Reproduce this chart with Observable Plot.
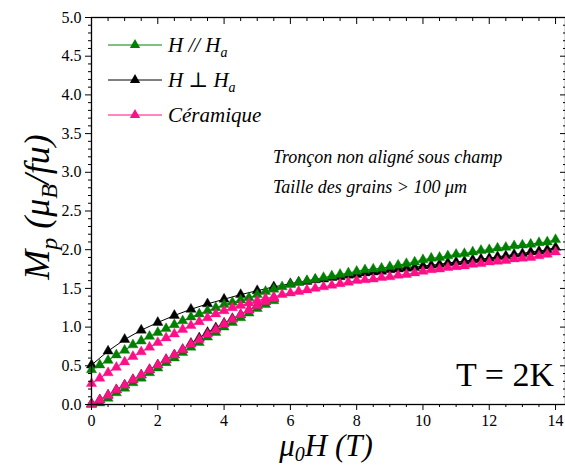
<!DOCTYPE html>
<html>
<head>
<meta charset="utf-8">
<script src="https://cdn.jsdelivr.net/npm/d3@7"></script>
<script src="https://cdn.jsdelivr.net/npm/@observablehq/plot@0.6"></script>
<style>
  html, body { margin: 0; padding: 0; background: white; }
  #chart svg { display: block; }
</style>
</head>
<body>
<div id="chart"></div>
<script>
// ---- data ----
const fieldQ = [0,0.25,0.5,0.75,1,1.25,1.5,1.75,2,2.25,2.5,2.75,3,3.25,3.5,3.75,4,4.25,4.5,4.75,5,5.25,5.5,5.75,6,6.25,6.5,6.75,7,7.25,7.5,7.75,8,8.25,8.5,8.75,9,9.25,9.5,9.75,10,10.25,10.5,10.75,11,11.25,11.5,11.75,12,12.25,12.5,12.75,13,13.25,13.5,13.75,14];
const fieldLow = [0,0.25,0.5,0.75,1,1.25,1.5,1.75,2,2.25,2.5,2.75,3,3.25,3.5,3.75,4,4.25,4.5,4.75,5,5.25,5.5];
const fieldBlackUp = [0,0.5,1,1.5,2,2.5,3,3.5,4,4.5,5,5.5,6,6.25,6.5,6.75,7,7.25,7.5,7.75,8,8.25,8.5,8.75,9,9.25,9.5,9.75,10,10.25,10.5,10.75,11,11.25,11.5,11.75,12,12.25,12.5,12.75,13,13.25,13.5,13.75,14];

// H parallel Ha (green)
const greenUp = [0.45,0.51,0.57,0.64,0.70,0.77,0.82,0.88,0.93,0.98,1.03,1.08,1.13,1.17,1.21,1.25,1.29,1.32,1.35,1.38,1.42,1.46,1.49,1.52,1.55,1.58,1.60,1.62,1.64,1.66,1.68,1.70,1.72,1.74,1.75,1.76,1.78,1.80,1.82,1.84,1.87,1.89,1.90,1.92,1.94,1.95,1.97,1.99,2.00,2.02,2.03,2.05,2.06,2.07,2.09,2.10,2.13];
const greenLow = [0.00,0.02,0.08,0.15,0.21,0.28,0.34,0.41,0.47,0.54,0.60,0.67,0.74,0.80,0.87,0.93,1.00,1.06,1.12,1.18,1.24,1.29,1.34];
// H perpendicular Ha (black)
const blackUp = [0.51,0.69,0.84,0.96,1.06,1.15,1.23,1.30,1.36,1.42,1.47,1.52,1.56,1.58,1.59,1.61,1.62,1.64,1.65,1.67,1.68,1.70,1.71,1.72,1.74,1.75,1.76,1.77,1.79,1.80,1.81,1.83,1.84,1.85,1.87,1.88,1.89,1.91,1.92,1.94,1.95,1.97,1.98,2.00,2.03];
const blackLow = [0.01,0.06,0.12,0.19,0.25,0.32,0.38,0.45,0.51,0.58,0.64,0.71,0.79,0.86,0.93,0.99,1.05,1.11,1.16,1.22,1.28,1.33,1.37];
// Ceramique (pink)
const pinkUp = [0.27,0.34,0.41,0.48,0.55,0.62,0.68,0.74,0.80,0.86,0.91,0.97,1.02,1.07,1.12,1.17,1.21,1.25,1.28,1.31,1.34,1.37,1.39,1.42,1.44,1.46,1.48,1.50,1.52,1.54,1.56,1.58,1.60,1.61,1.62,1.64,1.65,1.67,1.68,1.70,1.72,1.74,1.75,1.77,1.78,1.79,1.81,1.82,1.84,1.85,1.86,1.88,1.89,1.90,1.92,1.94,1.97];
const pinkLow = [0.01,0.06,0.12,0.19,0.25,0.32,0.38,0.45,0.51,0.58,0.64,0.71,0.78,0.84,0.91,0.97,1.04,1.10,1.16,1.22,1.28,1.33,1.37];

const xMajor = [0,2,4,6,8,10,12,14];
const xMinor = [1,3,5,7,9,11,13,0.5,1.5,2.5,3.5,4.5,5.5,6.5,7.5,8.5,9.5,10.5,11.5,12.5,13.5];
const yMajor = [0,0.5,1,1.5,2,2.5,3,3.5,4,4.5,5];
const yMinor = [0.1,0.2,0.3,0.4,0.6,0.7,0.8,0.9,1.1,1.2,1.3,1.4,1.6,1.7,1.8,1.9,2.1,2.2,2.3,2.4,2.6,2.7,2.8,2.9,3.1,3.2,3.3,3.4,3.6,3.7,3.8,3.9,4.1,4.2,4.3,4.4,4.6,4.7,4.8,4.9];

const MU = "\u03bc", PERP = "\u22a5";
const noteLines = ["Tron\u00e7on non align\u00e9 sous champ", "Taille des grains > 100 " + MU + "m"];

const GREEN = "#008000", BLACK = "#000000", PINK = "#ff0f87";
const SERIF = '"Liberation Serif"';
const R = 3.8;

function rows(hs, ms, s, b) { return hs.map((h, i) => ({H: h, M: ms[i], s, b: s + b})); }
const dBlack = [...rows(fieldBlackUp, blackUp, "black", "up"), ...rows(fieldLow, blackLow, "black", "low")];
const dGreen = [...rows(fieldQ, greenUp, "green", "up"), ...rows(fieldLow, greenLow, "green", "low")];
const dPink  = [...rows(fieldQ, pinkUp, "pink", "up"), ...rows(fieldLow, pinkLow, "pink", "low")];

function series(data, color) {
  return [
    Plot.line(data, {x: "H", y: "M", z: "b", stroke: color, strokeWidth: 1}),
    Plot.dot(data, {x: "H", y: "M", symbol: "triangle", r: R, fill: color, stroke: color, strokeWidth: 0.4})
  ];
}

const svg = Plot.plot({
  width: 565, height: 466,
  marginLeft: 91, marginRight: 0, marginTop: 17, marginBottom: 62,
  style: {fontFamily: SERIF, fontSize: "15px"},
  x: {domain: [0, 14.3]},
  y: {domain: [0, 5]},
  marks: [
    ...series(dBlack, BLACK),
    ...series(dGreen, GREEN),
    ...series(dPink, PINK),
    Plot.frame({stroke: "black", strokeWidth: 1.3}),
    Plot.axisX({ticks: xMajor, tickSize: 6, tickPadding: 4, tickFormat: d => String(d), label: null, fontSize: 16}),
    Plot.axisX({ticks: xMinor, tickSize: 3, text: null, label: null}),
    Plot.axisX({anchor: "top", ticks: xMajor, tickSize: -6, text: null, label: null}),
    Plot.axisX({anchor: "top", ticks: xMinor, tickSize: -3, text: null, label: null}),
    Plot.axisY({ticks: yMajor, tickSize: 6, tickPadding: 4, tickFormat: d3.format(".1f"), label: null, fontSize: 16}),
    Plot.axisY({ticks: yMinor, tickSize: 3, text: null, label: null}),
    Plot.axisY({anchor: "right", ticks: yMajor, tickSize: -6, text: null, label: null}),
    Plot.axisY({anchor: "right", ticks: yMinor, tickSize: -3, text: null, label: null})
  ]
});
document.getElementById("chart").appendChild(svg);

// ---- text decorations: axis titles, legend, annotations ----
const s = d3.select(svg);
function txt(sel) { return sel.attr("fill", "black"); }

// y title
const yt = txt(s.append("text"))
  .attr("transform", "translate(49,207) rotate(-90)")
  .attr("text-anchor", "middle")
  .style("font-style", "italic").style("font-size", "36px");
yt.append("tspan").text("M");
yt.append("tspan").style("font-size", "24px").attr("dy", 8).text("p");
yt.append("tspan").attr("dy", -8).text(" (" + MU);
yt.append("tspan").style("font-size", "24px").attr("dy", 8).text("B");
yt.append("tspan").attr("dy", -8).text("/fu)");

// x title
const xt = txt(s.append("text"))
  .attr("x", 326).attr("y", 456)
  .attr("text-anchor", "middle")
  .style("font-style", "italic").style("font-size", "31px");
xt.append("tspan").text(MU);
xt.append("tspan").style("font-size", "20px").attr("dy", 5).text("0");
xt.append("tspan").attr("dy", -5).text("H (T)");

// legend
const legendColors = [GREEN, BLACK, PINK];
const legendParts = [
  [["H // H", ""], ["a", "sub"]],
  [["H ", ""], [PERP, "sym"], [" H", ""], ["a", "sub"]],
  [["C\u00e9ramique", ""]]
];
legendParts.forEach((parts, i) => {
  const cy = 45 + i * 35;
  const c = legendColors[i];
  s.append("line").attr("x1", 108).attr("x2", 162).attr("y1", cy).attr("y2", cy)
    .attr("stroke", c).attr("stroke-width", 1);
  s.append("path").attr("d", d3.symbol(d3.symbolTriangle, R * R * Math.PI)())
    .attr("transform", `translate(135,${cy})`).attr("fill", c);
  const t = txt(s.append("text")).attr("x", 168).attr("y", cy + 7).attr("text-anchor", "start")
    .style("font-style", "italic").style("font-size", "21px");
  parts.forEach(([str, kind]) => {
    const ts = t.append("tspan").text(str);
    if (kind === "sub") ts.style("font-size", "14px").attr("dy", 5);
    if (kind === "sym") ts.attr("data-sym", "1").style("font-style", "normal");
  });
});

// annotation
noteLines.forEach((line, i) => {
  txt(s.append("text")).attr("x", 273).attr("y", 163 + i * 30).attr("text-anchor", "start")
    .style("font-style", "italic").style("font-size", "18px").text(line);
});

txt(s.append("text")).attr("x", 554).attr("y", 386).attr("text-anchor", "end")
  .style("font-size", "34px").text("T = 2K");

// force the serif face on every text, inline and important
s.selectAll("text, tspan").each(function () {
  const isSym = this.getAttribute("data-sym") === "1";
  this.style.setProperty("font-family", isSym ? '"DejaVu Serif"' : SERIF, "important");
});
svg.style.setProperty("font-family", SERIF, "important");
</script>
</body>
</html>
